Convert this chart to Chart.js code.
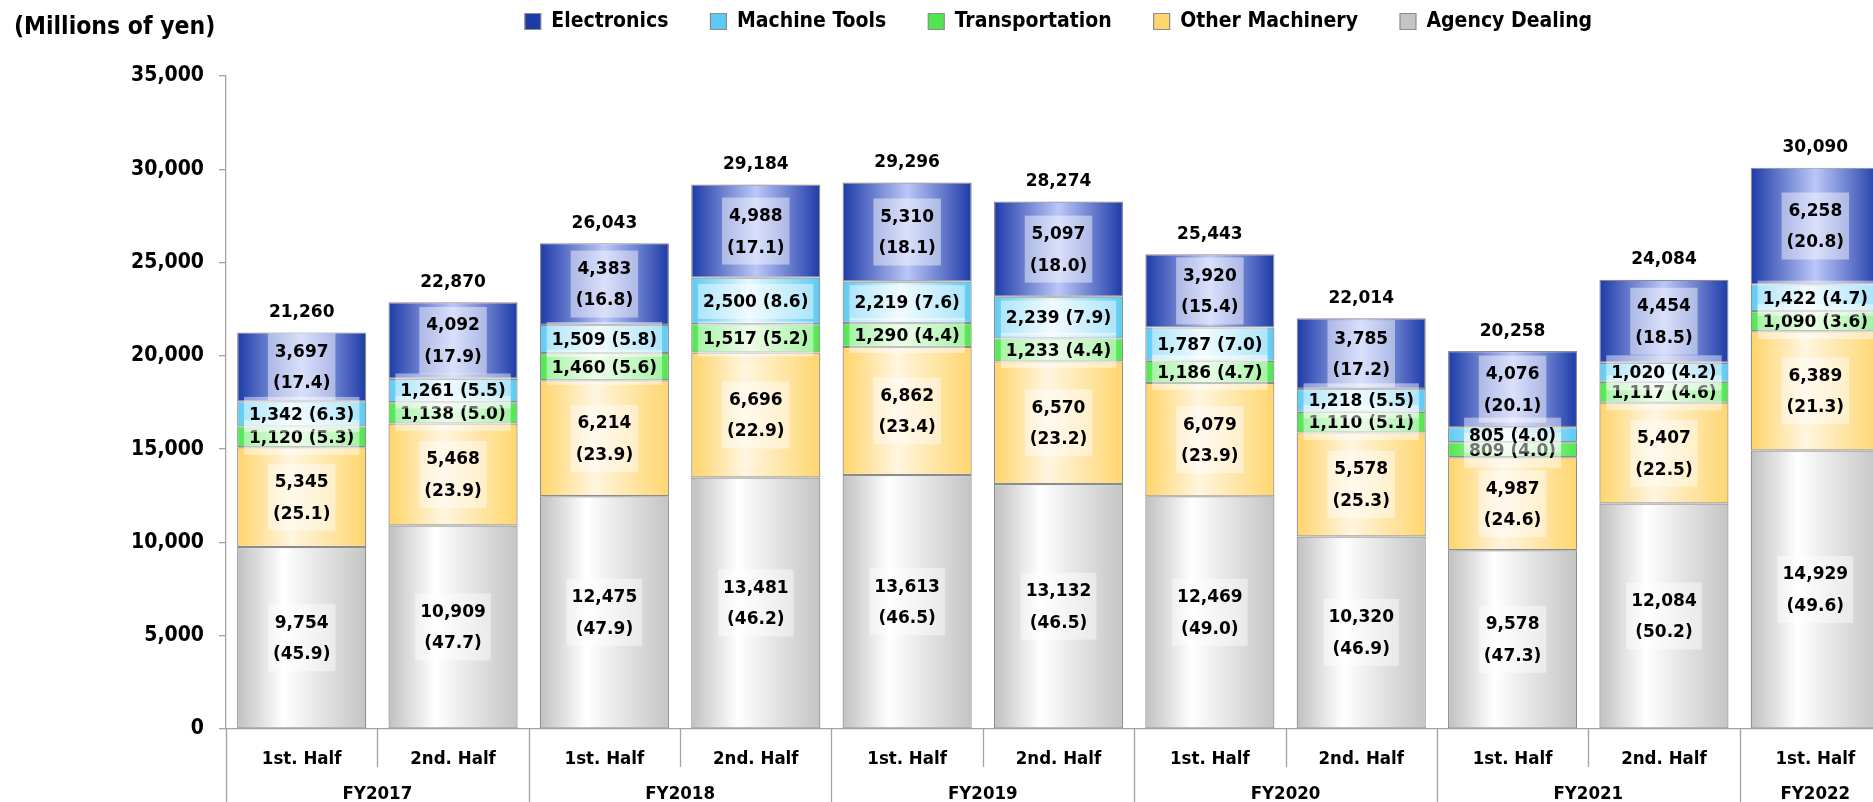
<!DOCTYPE html>
<html>
<head>
<meta charset="utf-8">
<script src="https://cdn.jsdelivr.net/npm/chart.js@4.4.1/dist/chart.umd.min.js"></script>
<style>
  html, body { margin: 0; padding: 0; overflow: hidden; background: #ffffff; }
  #wrap { position: relative; width: 1895px; height: 802px; }
</style>
</head>
<body>
<div id="wrap"><canvas id="chart"></canvas></div>
<script>
// ---------------- data ----------------
const halfLabels = ['1st. Half', '2nd. Half', '1st. Half', '2nd. Half', '1st. Half', '2nd. Half',
                    '1st. Half', '2nd. Half', '1st. Half', '2nd. Half', '1st. Half'];
const fiscalYears = ['FY2017', 'FY2017', 'FY2018', 'FY2018', 'FY2019', 'FY2019',
                     'FY2020', 'FY2020', 'FY2021', 'FY2021', 'FY2022'];

const agencyDealing  = [9754, 10909, 12475, 13481, 13613, 13132, 12469, 10320, 9578, 12084, 14929];
const otherMachinery = [5345, 5468, 6214, 6696, 6862, 6570, 6079, 5578, 4987, 5407, 6389];
const transportation = [1120, 1138, 1460, 1517, 1290, 1233, 1186, 1110, 809, 1117, 1090];
const machineTools   = [1342, 1261, 1509, 2500, 2219, 2239, 1787, 1218, 805, 1020, 1422];
const electronics    = [3697, 4092, 4383, 4988, 5310, 5097, 3920, 3785, 4076, 4454, 6258];
const totals         = [21260, 22870, 26043, 29184, 29296, 28274, 25443, 22014, 20258, 24084, 30090];

const agencyShare = [45.9, 47.7, 47.9, 46.2, 46.5, 46.5, 49.0, 46.9, 47.3, 50.2, 49.6];
const otherShare  = [25.1, 23.9, 23.9, 22.9, 23.4, 23.2, 23.9, 25.3, 24.6, 22.5, 21.3];
const transShare  = [5.3, 5.0, 5.6, 5.2, 4.4, 4.4, 4.7, 5.1, 4.0, 4.6, 3.6];
const mtShare     = [6.3, 5.5, 5.8, 8.6, 7.6, 7.9, 7.0, 5.5, 4.0, 4.2, 4.7];
const elecShare   = [17.4, 17.9, 16.8, 17.1, 18.1, 18.0, 15.4, 17.2, 20.1, 18.5, 20.8];

const yMax = 35000;
const yStep = 5000;
const unitLabel = '(Millions of yen)';

// ---------------- style ----------------
const COND = "'DejaVu Sans Condensed', 'DejaVu Sans', sans-serif";
const WIDE = "'DejaVu Sans', sans-serif";
const BAR_PCT = 0.853;
const AXIS_GRAY = '#a3a3a3';

function barGradient(edge, light, edge2, legendColor, peak) {
  return (c) => {
    const chart = c.chart;
    if (c.type !== 'data' || !chart.chartArea || !chart.scales.x) return legendColor;
    const xs = chart.scales.x;
    const cx = xs.getPixelForValue(c.dataIndex);
    const catW = xs.width / chart.data.labels.length;
    const w = catW * BAR_PCT;
    const g = chart.ctx.createLinearGradient(cx - w / 2, 0, cx + w / 2, 0);
    g.addColorStop(0, edge);
    g.addColorStop(peak, light);
    g.addColorStop(1, edge2);
    return g;
  };
}

function ds(label, data, shares, lines, bg) {
  return {
    label, data, shares, lines,
    backgroundColor: bg,
    borderColor: '#8c8c8c',
    borderWidth: 1.2,
    borderSkipped: false,
    barPercentage: BAR_PCT,
    categoryPercentage: 1.0
  };
}

// ---------------- plugins ----------------
const unitTitle = {
  id: 'unitTitle',
  afterDraw(chart) {
    const ctx = chart.ctx;
    ctx.save();
    ctx.font = 'bold 24.5px ' + COND;
    ctx.fillStyle = '#000';
    ctx.textAlign = 'left';
    ctx.textBaseline = 'middle';
    ctx.fillText(unitLabel, 14, 28);
    ctx.restore();
  }
};

const segmentLabels = {
  id: 'segmentLabels',
  afterDatasetsDraw(chart) {
    const ctx = chart.ctx;
    ctx.save();
    ctx.font = 'bold 17px ' + WIDE;
    ctx.textAlign = 'center';
    ctx.textBaseline = 'middle';
    chart.data.datasets.forEach((d, di) => {
      const meta = chart.getDatasetMeta(di);
      meta.data.forEach((bar, i) => {
        const p = bar.getProps(['x', 'y', 'base'], true);
        const cy = (p.y + p.base) / 2;
        const v = d.data[i].toLocaleString('en-US');
        const s = '(' + d.shares[i].toFixed(1) + ')';
        if (d.lines === 2) {
          const w = Math.max(ctx.measureText(v).width, ctx.measureText(s).width) + 10;
          ctx.fillStyle = 'rgba(255,255,255,0.45)';
          ctx.fillRect(p.x - w / 2, cy - 33.5, w, 67);
          ctx.fillStyle = '#000';
          ctx.fillText(v, p.x, cy - 14.5);
          ctx.fillText(s, p.x, cy + 17);
        } else {
          const t = v + ' ' + s;
          const w = ctx.measureText(t).width + 10;
          ctx.fillStyle = 'rgba(255,255,255,0.45)';
          ctx.fillRect(p.x - w / 2, cy - 17, w, 35);
          ctx.fillStyle = '#000';
          ctx.fillText(t, p.x, cy + 1.5);
        }
      });
    });
    // totals above each bar
    const top = chart.getDatasetMeta(chart.data.datasets.length - 1);
    ctx.fillStyle = '#000';
    top.data.forEach((bar, i) => {
      const p = bar.getProps(['x', 'y'], true);
      ctx.fillText(totals[i].toLocaleString('en-US'), p.x, p.y - 20);
    });
    ctx.restore();
  }
};

const groupAxis = {
  id: 'groupAxis',
  afterDraw(chart) {
    const ctx = chart.ctx;
    const xs = chart.scales.x;
    const n = chart.data.labels.length;
    const catW = xs.width / n;
    const y0 = xs.top;
    const H = chart.height;
    ctx.save();
    ctx.strokeStyle = AXIS_GRAY;
    ctx.lineWidth = 1.3;
    for (let i = 0; i <= n; i++) {
      const x = Math.round(xs.left + i * catW) + 0.5;
      const groupEdge = i === 0 || i === n || fiscalYears[i] !== fiscalYears[i - 1];
      ctx.beginPath();
      ctx.moveTo(x, y0);
      ctx.lineTo(x, groupEdge ? H : y0 + 38);
      ctx.stroke();
    }
    ctx.font = 'bold 18.5px ' + COND;
    ctx.fillStyle = '#000';
    ctx.textAlign = 'center';
    ctx.textBaseline = 'middle';
    let start = 0;
    for (let i = 1; i <= n; i++) {
      if (i === n || fiscalYears[i] !== fiscalYears[start]) {
        const cx = xs.left + ((start + i) / 2) * catW;
        ctx.fillText(fiscalYears[start], cx, 794);
        start = i;
      }
    }
    ctx.restore();
  }
};

// ---------------- chart ----------------
const LEG_PAD = 42;

new Chart(document.getElementById('chart'), {
  type: 'bar',
  data: {
    labels: halfLabels,
    datasets: [
      ds('Agency Dealing', agencyDealing, agencyShare, 2,
         barGradient('#c0c0c0', '#ffffff', '#c4c4c4', '#e4e4e4', 0.36)),
      ds('Other Machinery', otherMachinery, otherShare, 2,
         barGradient('#ffd468', '#fff5e0', '#ffd66e', '#fde4a8', 0.42)),
      ds('Transportation', transportation, transShare, 1,
         barGradient('#4fe64f', '#e0fcd8', '#4fe64f', '#9cf39a', 0.45)),
      ds('Machine Tools', machineTools, mtShare, 1,
         barGradient('#5ccaf4', '#e6f8ff', '#5ccaf4', '#a8e4fb', 0.45)),
      ds('Electronics', electronics, elecShare, 2,
         barGradient('#1d3ba8', '#bcc7f8', '#1d3ba8', '#5b74d4', 0.5))
    ]
  },
  options: {
    responsive: true,
    maintainAspectRatio: false,
    animation: false,
    events: [],
    layout: { padding: { left: 0, right: 4, top: 11 - LEG_PAD, bottom: 0 } },
    plugins: {
      tooltip: { enabled: false },
      legend: {
        position: 'top',
        fullSize: false,
        reverse: true,
        labels: {
          boxWidth: 16,
          boxHeight: 16,
          padding: LEG_PAD,
          color: '#000',
          font: { family: COND, size: 21, weight: 'bold' }
        }
      },
      subtitle: {
        display: true,
        text: '',
        weight: 500,
        padding: { top: 11, bottom: 11 },
        font: { size: 10 }
      }
    },
    scales: {
      x: {
        stacked: true,
        grid: { display: false },
        border: { display: true, color: AXIS_GRAY, width: 1.3 },
        ticks: {
          autoSkip: false,
          maxRotation: 0,
          padding: 11,
          color: '#000',
          font: { family: COND, size: 18.5, weight: 'bold' }
        },
        afterFit(s) { s.height = 73; }
      },
      y: {
        stacked: true,
        min: 0,
        max: yMax,
        grid: { drawOnChartArea: false, tickLength: 7, color: AXIS_GRAY, lineWidth: 1.3 },
        border: { display: true, color: AXIS_GRAY, width: 1.3 },
        ticks: {
          stepSize: yStep,
          padding: 15,
          color: '#000',
          font: { family: COND, size: 21, weight: 'bold' },
          callback: (v) => v.toLocaleString('en-US')
        },
        afterFit(s) { s.width = 226; }
      }
    }
  },
  plugins: [segmentLabels, groupAxis, unitTitle]
});
</script>
</body>
</html>
